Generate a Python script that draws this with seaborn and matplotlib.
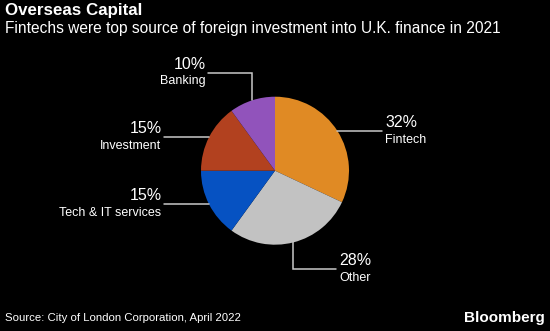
import numpy as np
import matplotlib
matplotlib.use("Agg")
import matplotlib.pyplot as plt
import seaborn as sns

categories = ["Fintech", "Other", "Tech & IT services", "Investment", "Banking"]
values = [32, 28, 15, 15, 10]
pct_labels = ["32%", "28%", "15%", "15%", "10%"]
colors = ["#E08A24", "#C2C2C2", "#0652C2", "#B2411F", "#9153BB"]

title = "Overseas Capital"
subtitle = "Fintechs were top source of foreign investment into U.K. finance in 2021"
source = "Source: City of London Corporation, April 2022"
brand = "Bloomberg"

sns.set_theme(style="dark")
FONT = "Liberation Sans"
plt.rcParams["font.family"] = [FONT, "DejaVu Sans"]

W, H = 550, 331
fig = plt.figure(figsize=(W / 100, H / 100), dpi=100, facecolor="black")
ax = fig.add_axes([0, 0, 1, 1])
ax.set_facecolor("black")

cx, cy, r = 275, H - 170.7, 74
wedges, _ = ax.pie(values, colors=colors, startangle=90, counterclock=False,
                   center=(cx, cy), radius=r, frame=True,
                   wedgeprops=dict(linewidth=0))
ax.set_xlim(0, W)
ax.set_ylim(0, H)
ax.set_aspect("equal")
ax.axis("off")

line_col = "#c8c8c8"
# leader routing: (vertical leg, horizontal leg, side)
routes = {"Fintech": (0, 45, 1), "Other": (-27, 43, 1),
          "Tech & IT services": (0, -45, -1), "Investment": (0, -45, -1),
          "Banking": (27.6, -44, -1)}
for w, cat, pct in zip(wedges, categories, pct_labels):
    ang = np.deg2rad((w.theta1 + w.theta2) / 2)
    ax0, ay0 = cx + r * np.cos(ang), cy + r * np.sin(ang)
    dv, dh, side = routes[cat]
    ax1, ay1 = ax0, ay0 + dv
    ax2, ay2 = ax1 + dh, ay1
    ax.plot([ax0, ax1, ax2], [ay0, ay1, ay2], color=line_col, lw=1.1,
            solid_joinstyle="miter")
    tx = ax2 + 2.5 * side
    ha = "left" if side > 0 else "right"
    ax.text(tx, ay2 + 8.5, pct, color="white", fontsize=11.5, ha=ha, va="center")
    ax.text(tx, ay2 - 8.5, cat, color="white", fontsize=9, ha=ha, va="center")

fig.text(5 / W, 1 - 11 / H, title, color="white", fontsize=12.2,
         fontweight="bold", ha="left", va="center")
fig.text(5 / W, 1 - 28 / H, subtitle, color="white", fontsize=11.2,
         ha="left", va="center")
fig.text(5 / W, 1 - 318 / H, source, color="white", fontsize=8.2,
         ha="left", va="center")
fig.text(545 / W, 1 - 318 / H, brand, color="white", fontsize=11,
         fontweight="bold", ha="right", va="center")

fig.savefig("out.png", dpi=100, facecolor="black")
